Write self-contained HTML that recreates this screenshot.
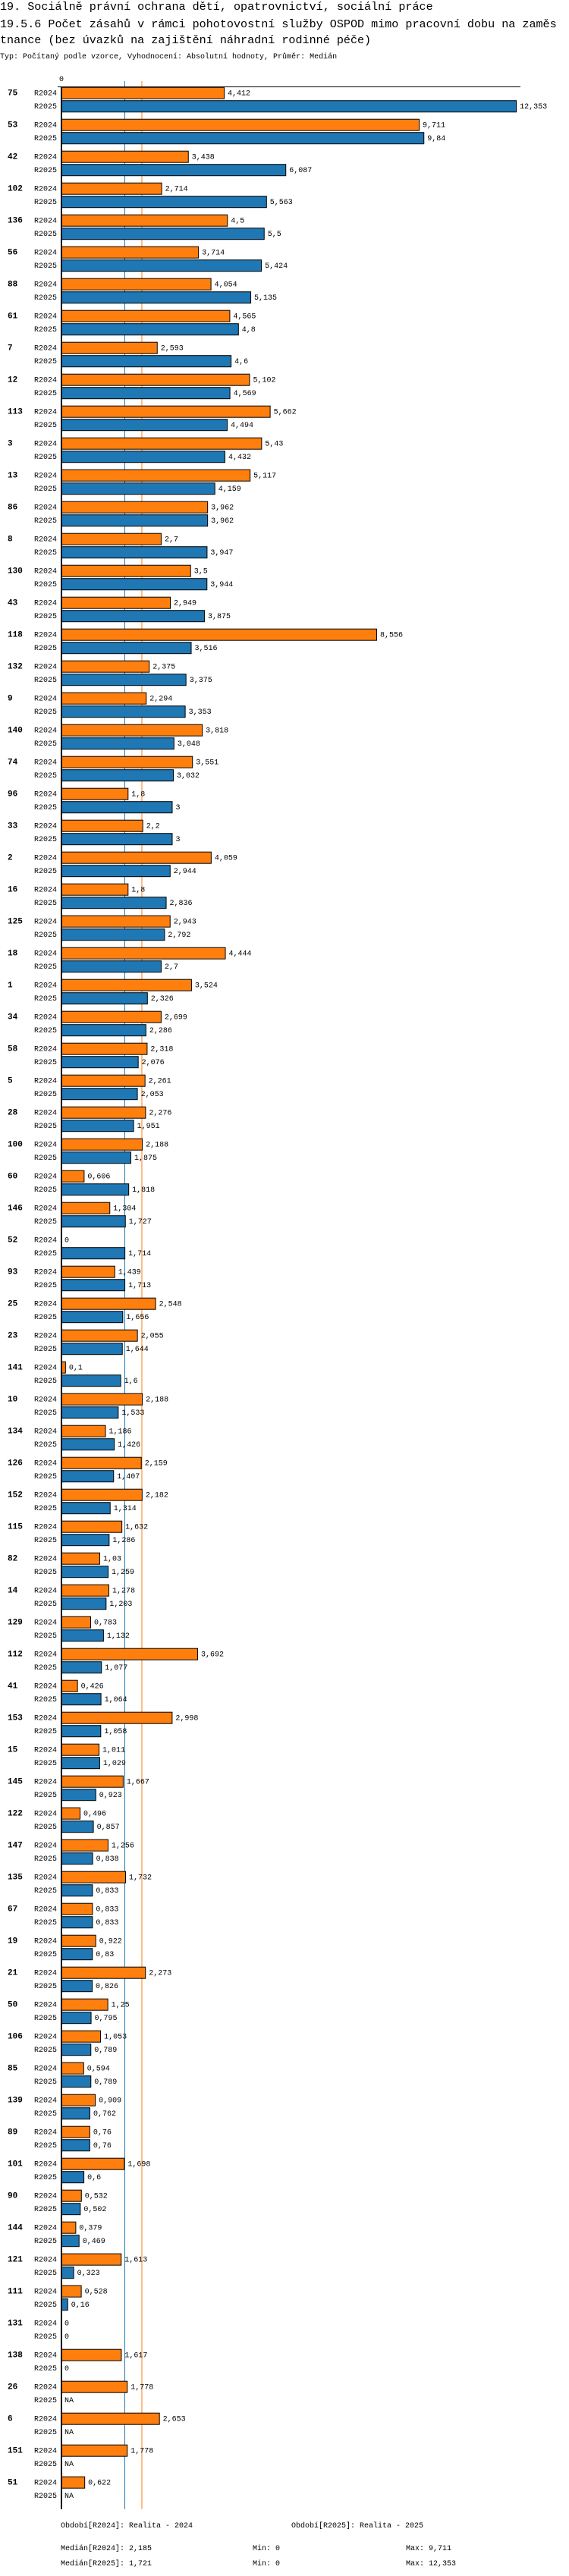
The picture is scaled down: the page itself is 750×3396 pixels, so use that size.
<!DOCTYPE html>
<html><head><meta charset="utf-8"><style>
html,body{margin:0;padding:0;background:#fff;width:750px;height:3396px;overflow:hidden}
svg{display:block}
text{font-family:"Liberation Mono","DejaVu Sans Mono",monospace;fill:#000}
</style></head><body>
<svg id="chart" width="750" height="3396" xmlns="http://www.w3.org/2000/svg">
<text x="0" y="13" font-size="15.1">19. Sociálně právní ochrana dětí, opatrovnictví, sociální práce</text>
<text x="0" y="36" font-size="15.1">19.5.6 Počet zásahů v rámci pohotovostní služby OSPOD mimo pracovní dobu na zaměs</text>
<text x="0" y="57" font-size="15.1">tnance (bez úvazků na zajištění náhradní rodinné péče)</text>
<text x="0" y="77" font-size="10">Typ: Počítaný podle vzorce, Vyhodnocení: Absolutní hodnoty, Průměr: Medián</text>
<g id="marks"></g>
<text x="80" y="3332" font-size="10">Období[R2024]: Realita - 2024</text>
<text x="384" y="3332" font-size="10">Období[R2025]: Realita - 2025</text>
<text x="80" y="3362" font-size="10">Medián[R2024]: 2,185</text>
<text x="333" y="3362" font-size="10">Min: 0</text>
<text x="535" y="3362" font-size="10">Max: 9,711</text>
<text x="80" y="3382" font-size="10">Medián[R2025]: 1,721</text>
<text x="333" y="3382" font-size="10">Min: 0</text>
<text x="535" y="3382" font-size="10">Max: 12,353</text>
</svg>
<script>
const categories = ["75","53","42","102","136","56","88","61","7","12","113","3","13","86","8","130","43","118","132","9","140","74","96","33","2","16","125","18","1","34","58","5","28","100","60","146","52","93","25","23","141","10","134","126","152","115","82","14","129","112","41","153","15","145","122","147","135","67","19","21","50","106","85","139","89","101","90","144","121","111","131","138","26","6","151","51"];
const seriesR2024 = [4.412,9.711,3.438,2.714,4.5,3.714,4.054,4.565,2.593,5.102,5.662,5.43,5.117,3.962,2.7,3.5,2.949,8.556,2.375,2.294,3.818,3.551,1.8,2.2,4.059,1.8,2.943,4.444,3.524,2.699,2.318,2.261,2.276,2.188,0.606,1.304,0,1.439,2.548,2.055,0.1,2.188,1.186,2.159,2.182,1.632,1.03,1.278,0.783,3.692,0.426,2.998,1.011,1.667,0.496,1.256,1.732,0.833,0.922,2.273,1.25,1.053,0.594,0.909,0.76,1.698,0.532,0.379,1.613,0.528,0,1.617,1.778,2.653,1.778,0.622];
const seriesR2025 = [12.353,9.84,6.087,5.563,5.5,5.424,5.135,4.8,4.6,4.569,4.494,4.432,4.159,3.962,3.947,3.944,3.875,3.516,3.375,3.353,3.048,3.032,3,3,2.944,2.836,2.792,2.7,2.326,2.286,2.076,2.053,1.951,1.875,1.818,1.727,1.714,1.713,1.656,1.644,1.6,1.533,1.426,1.407,1.314,1.286,1.259,1.203,1.132,1.077,1.064,1.058,1.029,0.923,0.857,0.838,0.833,0.833,0.83,0.826,0.795,0.789,0.789,0.762,0.76,0.6,0.502,0.469,0.323,0.16,0,0,null,null,null,null];
const seriesNames = ["R2024","R2025"];
const medians = [2.185,1.721];

const NS = "http://www.w3.org/2000/svg";
const X0 = 81, SCALE = 48.5, TOP = 114.7, PITCH = 42, BAR_H = 15, SUB = 17.5;
const xScale = v => X0 + v * SCALE;
const yScale = (i, s) => TOP + i * PITCH + s * SUB;
const colors = ["#ff7f0e","#1f77b4"];
const g = document.getElementById("marks");
function mk(tag, attrs) { const e = document.createElementNS(NS, tag); for (const k in attrs) e.setAttribute(k, attrs[k]); g.appendChild(e); return e; }
const fmt = v => String(v).replace(".", ",");
const chartBottom = yScale(categories.length - 1, 0) + 43;

medians.forEach((m, s) => {
  const l = mk("line", {x1: xScale(m), x2: xScale(m), y1: 107, y2: chartBottom, stroke: colors[s], "stroke-width": 1});
  
  
});
const zl = mk("text", {x: 78, y: 107, "font-size": 10});
zl.textContent = "0";


const tl = mk("line", {x1: 76, x2: 686, y1: 114.5, y2: 114.5, stroke: "#000", "stroke-width": 1});



categories.forEach((c, i) => {
  const gl = mk("text", {x: 10, y: yScale(i, 0) + 11, "font-size": 11, "font-weight": "bold"});
  gl.textContent = c;
  
  
  [seriesR2024, seriesR2025].forEach((arr, s) => {
    const v = arr[i];
    const y = yScale(i, s);
    const sl = mk("text", {x: 45, y: y + 11, "font-size": 10});
    sl.textContent = seriesNames[s];
    
    
    let tx = X0 + 4;
    if (v !== null && v > 0) {
      const r = mk("rect", {x: X0 + 0.5, y: y + 0.5, width: xScale(v) - X0, height: BAR_H, fill: colors[s], stroke: "#000", "stroke-width": 1});
      
      
      tx = xScale(v) + 5;
    }
    const vl = mk("text", {x: tx, y: y + 11, "font-size": 10});
    vl.textContent = v === null ? "NA" : fmt(v);
    
    
  });
});
const ax = mk("line", {x1: 81, x2: 81, y1: 114, y2: chartBottom, stroke: "#000", "stroke-width": 2});


</script>
</body></html>
